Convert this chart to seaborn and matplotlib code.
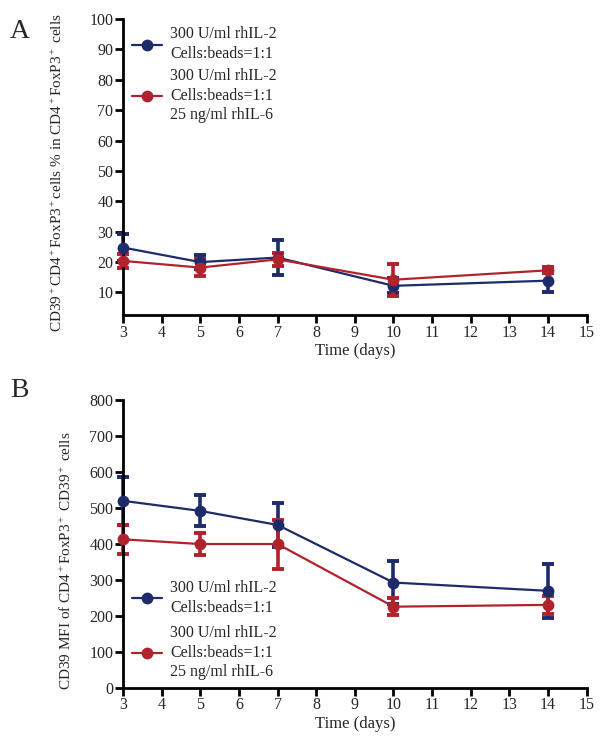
import matplotlib
matplotlib.use("Agg")
import matplotlib.pyplot as plt
import seaborn as sns
import pandas as pd
import numpy as np

sns.set_theme(style="ticks")
plt.rcParams['font.family'] = ['Liberation Serif', 'DejaVu Serif']
plt.rcParams['mathtext.fontset'] = 'custom'
plt.rcParams['mathtext.rm'] = 'Liberation Serif'
plt.rcParams['mathtext.it'] = 'Liberation Serif:italic'
plt.rcParams['mathtext.bf'] = 'Liberation Serif:bold'

days = [3, 5, 7, 10, 14]
series_labels = ["300 U/ml rhIL-2\nCells:beads=1:1",
                 "300 U/ml rhIL-2\nCells:beads=1:1\n25 ng/ml rhIL-6"]

# Panel A: CD39+ % in CD4+FoxP3+ cells
a_ctrl = [24.8, 20.0, 21.5, 12.2, 13.9]
a_ctrl_sd = [4.4, 2.4, 5.7, 2.5, 3.9]
a_il6 = [20.4, 18.2, 20.9, 14.2, 17.3]
a_il6_sd = [2.3, 2.8, 2.2, 5.3, 1.0]

# Panel B: CD39 MFI
b_ctrl = [519, 491, 452, 292, 269]
b_ctrl_sd = [66, 43, 60, 59, 75]
b_il6 = [412, 399, 399, 225, 230]
b_il6_sd = [41, 30, 68, 23, 24]

colors = ["#1d2b6b", "#b1232c"]

fig = plt.figure(figsize=(6.02, 7.45), dpi=100)
axA = fig.add_axes([0.2043, 0.5772, 0.7703, 0.3973])
axB = fig.add_axes([0.2043, 0.0769, 0.7703, 0.3867])


def draw(ax, means, sds):
    df = pd.DataFrame({
        "day": days * 2,
        "value": means[0] + means[1],
        "group": [series_labels[0]] * len(days) + [series_labels[1]] * len(days),
    })
    sns.lineplot(data=df, x="day", y="value", hue="group", palette=colors,
                 marker="o", markersize=8.5, markeredgewidth=0, linewidth=1.6,
                 ax=ax, zorder=3)
    for ln in ax.lines:
        ln.set_clip_on(False)
    for m, s, c in zip(means, sds, colors):
        eb = ax.errorbar(days, m, yerr=s, fmt="none", ecolor=c, elinewidth=2.6,
                         capsize=4.5, capthick=2.8, zorder=2)
        for art in eb.lines[1]:
            art.set_clip_on(False)
        for art in eb.lines[2]:
            art.set_clip_on(False)
    ax.set_xlim(3, 15)
    ax.set_xticks(range(3, 16))
    for side in ["top", "right"]:
        ax.spines[side].set_visible(False)
    for side in ["left", "bottom"]:
        ax.spines[side].set_linewidth(2)
        ax.spines[side].set_color("black")
    ax.tick_params(axis="both", direction="out", length=6, width=2,
                   labelsize=11.5, color="black", pad=1)
    ax.set_xlabel("Time (days)", fontsize=12, labelpad=2)


def style_legend(leg):
    for t in leg.get_texts():
        t.set_linespacing(1.3)


draw(axA, [a_ctrl, a_il6], [a_ctrl_sd, a_il6_sd])
axA.set_ylim(2.6, 100)
axA.set_yticks(range(10, 101, 10))
axA.set_ylabel(r"CD39$^+$CD4$^+$FoxP3$^+$cells % in CD4$^+$FoxP3$^+$ cells", fontsize=11)
axA.yaxis.set_label_coords(-0.125, 0.48)
legA = axA.legend(loc="upper left", bbox_to_anchor=(0.0, 1.005), frameon=False,
                  fontsize=11.5, handlelength=1.9, handletextpad=0.5,
                  labelspacing=0.4, borderaxespad=0.15)
style_legend(legA)

draw(axB, [b_ctrl, b_il6], [b_ctrl_sd, b_il6_sd])
axB.set_ylim(0, 800)
axB.set_yticks(range(0, 801, 100))
axB.set_ylabel(r"CD39 MFI of CD4$^+$FoxP3$^+$ CD39$^+$ cells", fontsize=11)
axB.yaxis.set_label_coords(-0.105, 0.44)
legB = axB.legend(loc="lower left", bbox_to_anchor=(0.0, -0.005), frameon=False,
                  fontsize=11.5, handlelength=1.9, handletextpad=0.5,
                  labelspacing=0.6, borderaxespad=0.15)
style_legend(legB)

fig.text(0.017, 0.975, "A", fontsize=20, va="top", ha="left")
fig.text(0.017, 0.492, "B", fontsize=20, va="top", ha="left")

fig.savefig("out.png", dpi=100)
